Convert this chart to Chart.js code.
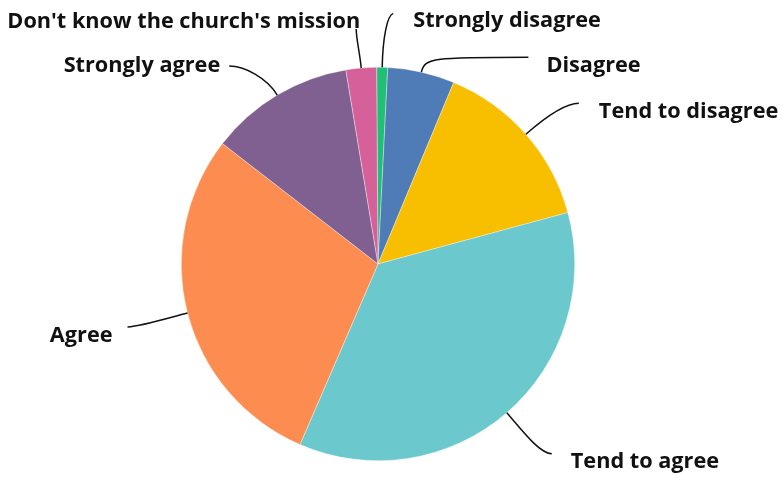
<!DOCTYPE html>
<html>
<head>
<meta charset="utf-8">
<script src="https://cdn.jsdelivr.net/npm/chart.js@4"></script>
<style>
html,body{margin:0;padding:0;background:#fff;}
#wrap{width:782px;height:477px;position:relative;}
</style>
</head>
<body>
<div id="wrap"><canvas id="c"></canvas></div>
<script>
const categories = ["Strongly disagree","Disagree","Tend to disagree","Tend to agree","Agree","Strongly agree","Don't know the church's mission"];
const shares = [0.9, 5.5, 14.5, 35.7, 29.0, 11.9, 2.5];
const colors = ["#1fbf76","#4f7cb6","#f8be00","#6bc8cc","#fd8c50","#7f6090","#d6609a"];

// leader-line layout per label: end offset from anchor, radial control length, 2nd control offset from end, text offset from end, alignment
const labelLayout = [
  {end:[11,-54], r:30, c2:[-6,2],  t:[20,14],  align:"left"},
  {end:[107,-15], r:15, c2:[-95,0], t:[18,15], align:"left"},
  {end:[53,-31], r:20, c2:[-15,0], t:[20,15],  align:"left"},
  {end:[45,41],  r:25, c2:[-12,0], t:[19,14],  align:"left"},
  {end:[-60,14], r:20, c2:[15,-1], t:[-15,15], align:"right"},
  {end:[-48,-29],r:20, c2:[15,0],  t:[-9,6],   align:"right"},
  {end:[-5,-39], r:15, c2:[0,10],  t:[4,-1],   align:"right"}
];

const leaderPlugin = {
  id: "leaders",
  afterDatasetsDraw(chart) {
    const ctx = chart.ctx;
    const meta = chart.getDatasetMeta(0);
    ctx.save();
    meta.data.forEach((arc, i) => {
      const p = arc.getProps(["x","y","startAngle","endAngle","outerRadius"], true);
      const mid = (p.startAngle + p.endAngle) / 2;
      const cx = Math.cos(mid), sy = Math.sin(mid);
      const ax = p.x + cx * p.outerRadius, ay = p.y + sy * p.outerRadius;
      const L = labelLayout[i];
      const ex = ax + L.end[0], ey = ay + L.end[1];
      const c1x = ax + cx * L.r, c1y = ay + sy * L.r;
      const c2x = ex + L.c2[0], c2y = ey + L.c2[1];
      ctx.beginPath();
      ctx.moveTo(ax, ay);
      ctx.bezierCurveTo(c1x, c1y, c2x, c2y, ex, ey);
      ctx.strokeStyle = "#111";
      ctx.lineWidth = 1.5;
      ctx.stroke();
      ctx.font = "bold 21.7px 'Open Sans', Roboto, sans-serif";
      ctx.fillStyle = "#111";
      ctx.textAlign = L.align;
      ctx.textBaseline = "alphabetic";
      ctx.fillText(categories[i], ex + L.t[0], ey + L.t[1]);
    });
    ctx.restore();
  }
};

new Chart(document.getElementById("c"), {
  type: "pie",
  data: {
    labels: categories,
    datasets: [{
      data: shares,
      backgroundColor: colors,
      borderColor: "rgba(255,255,255,0.6)",
      borderWidth: 0.6
    }]
  },
  options: {
    responsive: true,
    maintainAspectRatio: false,
    animation: false,
    rotation: -0.4,
    layout: { padding: { top: 67, bottom: 16, left: 181, right: 207 } },
    plugins: { legend: { display: false }, tooltip: { enabled: false } }
  },
  plugins: [leaderPlugin]
});
</script>
</body>
</html>
